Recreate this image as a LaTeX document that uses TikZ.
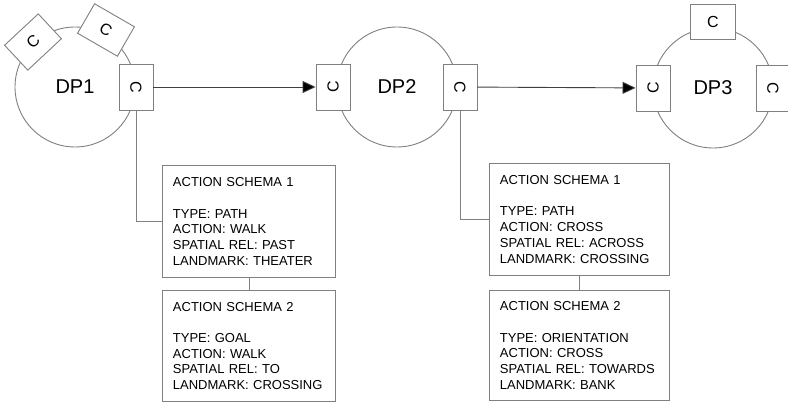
\documentclass[tikz,border=0pt]{standalone}
\usepackage{fontspec}
\setmainfont{Liberation Sans}
\usetikzlibrary{arrows.meta}

\tikzset{
  outline/.style={draw=black!50, line width=0.9pt},
  dpcircle/.style={outline, circle, minimum size=120pt, inner sep=0pt,
    font=\fontsize{20}{24}\selectfont},
  port/.style={outline, fill=white, rectangle, minimum width=46pt,
    minimum height=34pt, inner sep=0pt, font=\fontsize{16}{18}\selectfont},
  schema/.style={outline, rectangle, anchor=north west, align=left,
    inner xsep=10.5pt, inner ysep=0pt,
    font=\fontsize{13}{15.7}\selectfont},
  flow/.style={draw=black!75, line width=0.9pt,
    -{Triangle[length=13pt, width=12pt, fill=black]}},
  link/.style={outline}
}

\begin{document}
\begin{tikzpicture}[x=1pt, y=-1pt]
\useasboundingbox (0,0) rectangle (788,404);

% decision points
\node[dpcircle] (dp1) at (75,87) {DP1};
\node[dpcircle] (dp2) at (397,87) {DP2};
\node[dpcircle] (dp3) at (713,88) {DP3};

% connector ports on the circles (long side along the tangent)
\node[port, rotate=43]  (dp1a) at (33,42)  {C};
\node[port, rotate=-30] (dp1b) at (106,30) {C};
\node[port, rotate=-90] (dp1r) at (136,87) {C};
\node[port, rotate=90]  (dp2l) at (333,87) {C};
\node[port, rotate=-90] (dp2r) at (460,87) {C};
\node[port, minimum width=45pt, minimum height=35pt] (dp3t) at (713,22) {C};
\node[port, rotate=90]  (dp3l) at (653,88) {C};
\node[port, rotate=-90] (dp3r) at (773,88) {C};

% action schemas
\node[schema, minimum height=112pt, text width=152pt] (s11) at (162,165)
  {ACTION SCHEMA 1\\[15.5pt]TYPE: PATH\\ACTION: WALK\\SPATIAL REL: PAST\\LANDMARK: THEATER};
\node[schema, minimum height=111pt, text width=152pt] (s12) at (162,290)
  {ACTION SCHEMA 2\\[15.5pt]TYPE: GOAL\\ACTION: WALK\\SPATIAL REL: TO\\LANDMARK: CROSSING};
\node[schema, minimum height=112pt, text width=159pt] (s21) at (489,163)
  {ACTION SCHEMA 1\\[15.5pt]TYPE: PATH\\ACTION: CROSS\\SPATIAL REL: ACROSS\\LANDMARK: CROSSING};
\node[schema, minimum height=110pt, text width=159pt] (s22) at (489,290)
  {ACTION SCHEMA 2\\[15.5pt]TYPE: ORIENTATION\\ACTION: CROSS\\SPATIAL REL: TOWARDS\\LANDMARK: BANK};

% flow between decision points
\draw[flow] (dp1r) -- (dp2l);
\draw[flow] (dp2r) -- (dp3l);

% schemas attached to the outgoing ports
\draw[link] (s11.west) -| (dp1r);
\draw[link] (s21.west) -| (dp2r);
\draw[link] (s11.south) -- (s12.north);
\draw[link] (s21.south) -- (s22.north);
\end{tikzpicture}
\end{document}
